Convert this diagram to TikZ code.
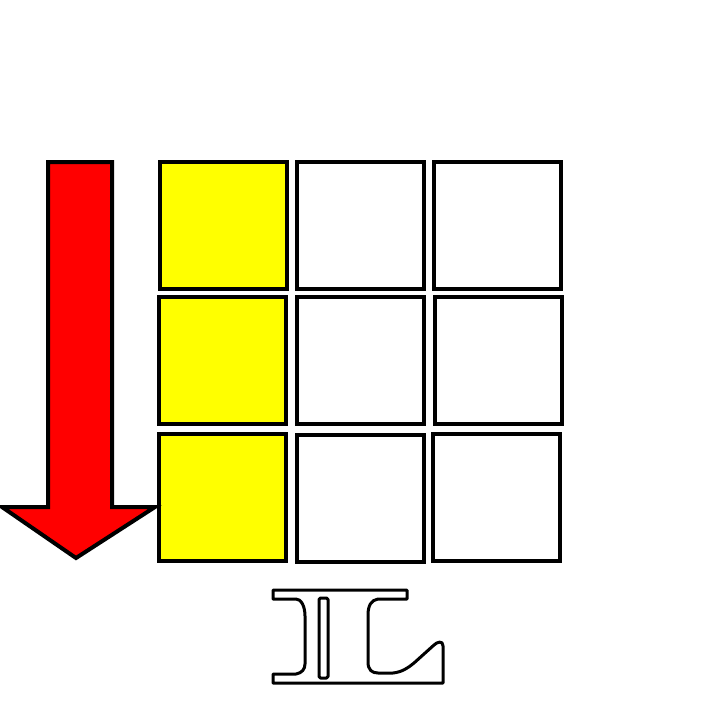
\documentclass[tikz,border=0pt]{standalone}
\definecolor{yel}{RGB}{255,255,0}
\definecolor{redfill}{RGB}{255,0,0}
\begin{document}
\begin{tikzpicture}[x=1pt,y=-1pt,
  cell/.style={draw=black,line width=4pt,minimum width=127pt,minimum height=127pt,inner sep=0pt,outer sep=0pt,fill=white},
  hot/.style={cell,fill=yel},
  glyph/.style={draw=black,line width=3pt,line join=round,fill=white}]
\useasboundingbox (0,0) rectangle (720,720);
% grid
\node[hot]  (c11) at (223.5,225) {};
\node[cell] (c12) at (360.5,225) {};
\node[cell] (c13) at (497.5,225) {};
\node[hot]  (c21) at (222.5,360.5) {};
\node[cell] (c22) at (360.5,360.5) {};
\node[cell] (c23) at (498.5,360.5) {};
\node[hot]  (c31) at (222.5,497.5) {};
\node[cell] (c32) at (360.5,498.5) {};
\node[cell] (c33) at (496.5,497.5) {};
% arrow
\draw[line width=4pt,line join=miter,fill=redfill] (48,162) -- (112,162) -- (112,507) -- (155,507)
  -- (76,558) -- (2,507) -- (48,507) -- cycle;
% L glyph
\draw[glyph] (273,590) -- (407,590) -- (407,599) -- (378,599)
  .. controls (371,600) and (368,606) .. (368,615) -- (368,662)
  .. controls (368,670) and (372,673) .. (378,673) -- (393,673)
  .. controls (402,672) and (408,668) .. (414,663) -- (434,645)
  .. controls (437,642) and (443,640) .. (443,646) -- (443,683) -- (273,683) -- (273,674) -- (296,674)
  .. controls (302,673) and (305,669) .. (305,664) -- (305,616)
  .. controls (305,606) and (301,599) .. (296,599) -- (273,599) -- cycle;
\draw[glyph,rounded corners=1.5pt] (319,598) rectangle (328,678);
\end{tikzpicture}
\end{document}
